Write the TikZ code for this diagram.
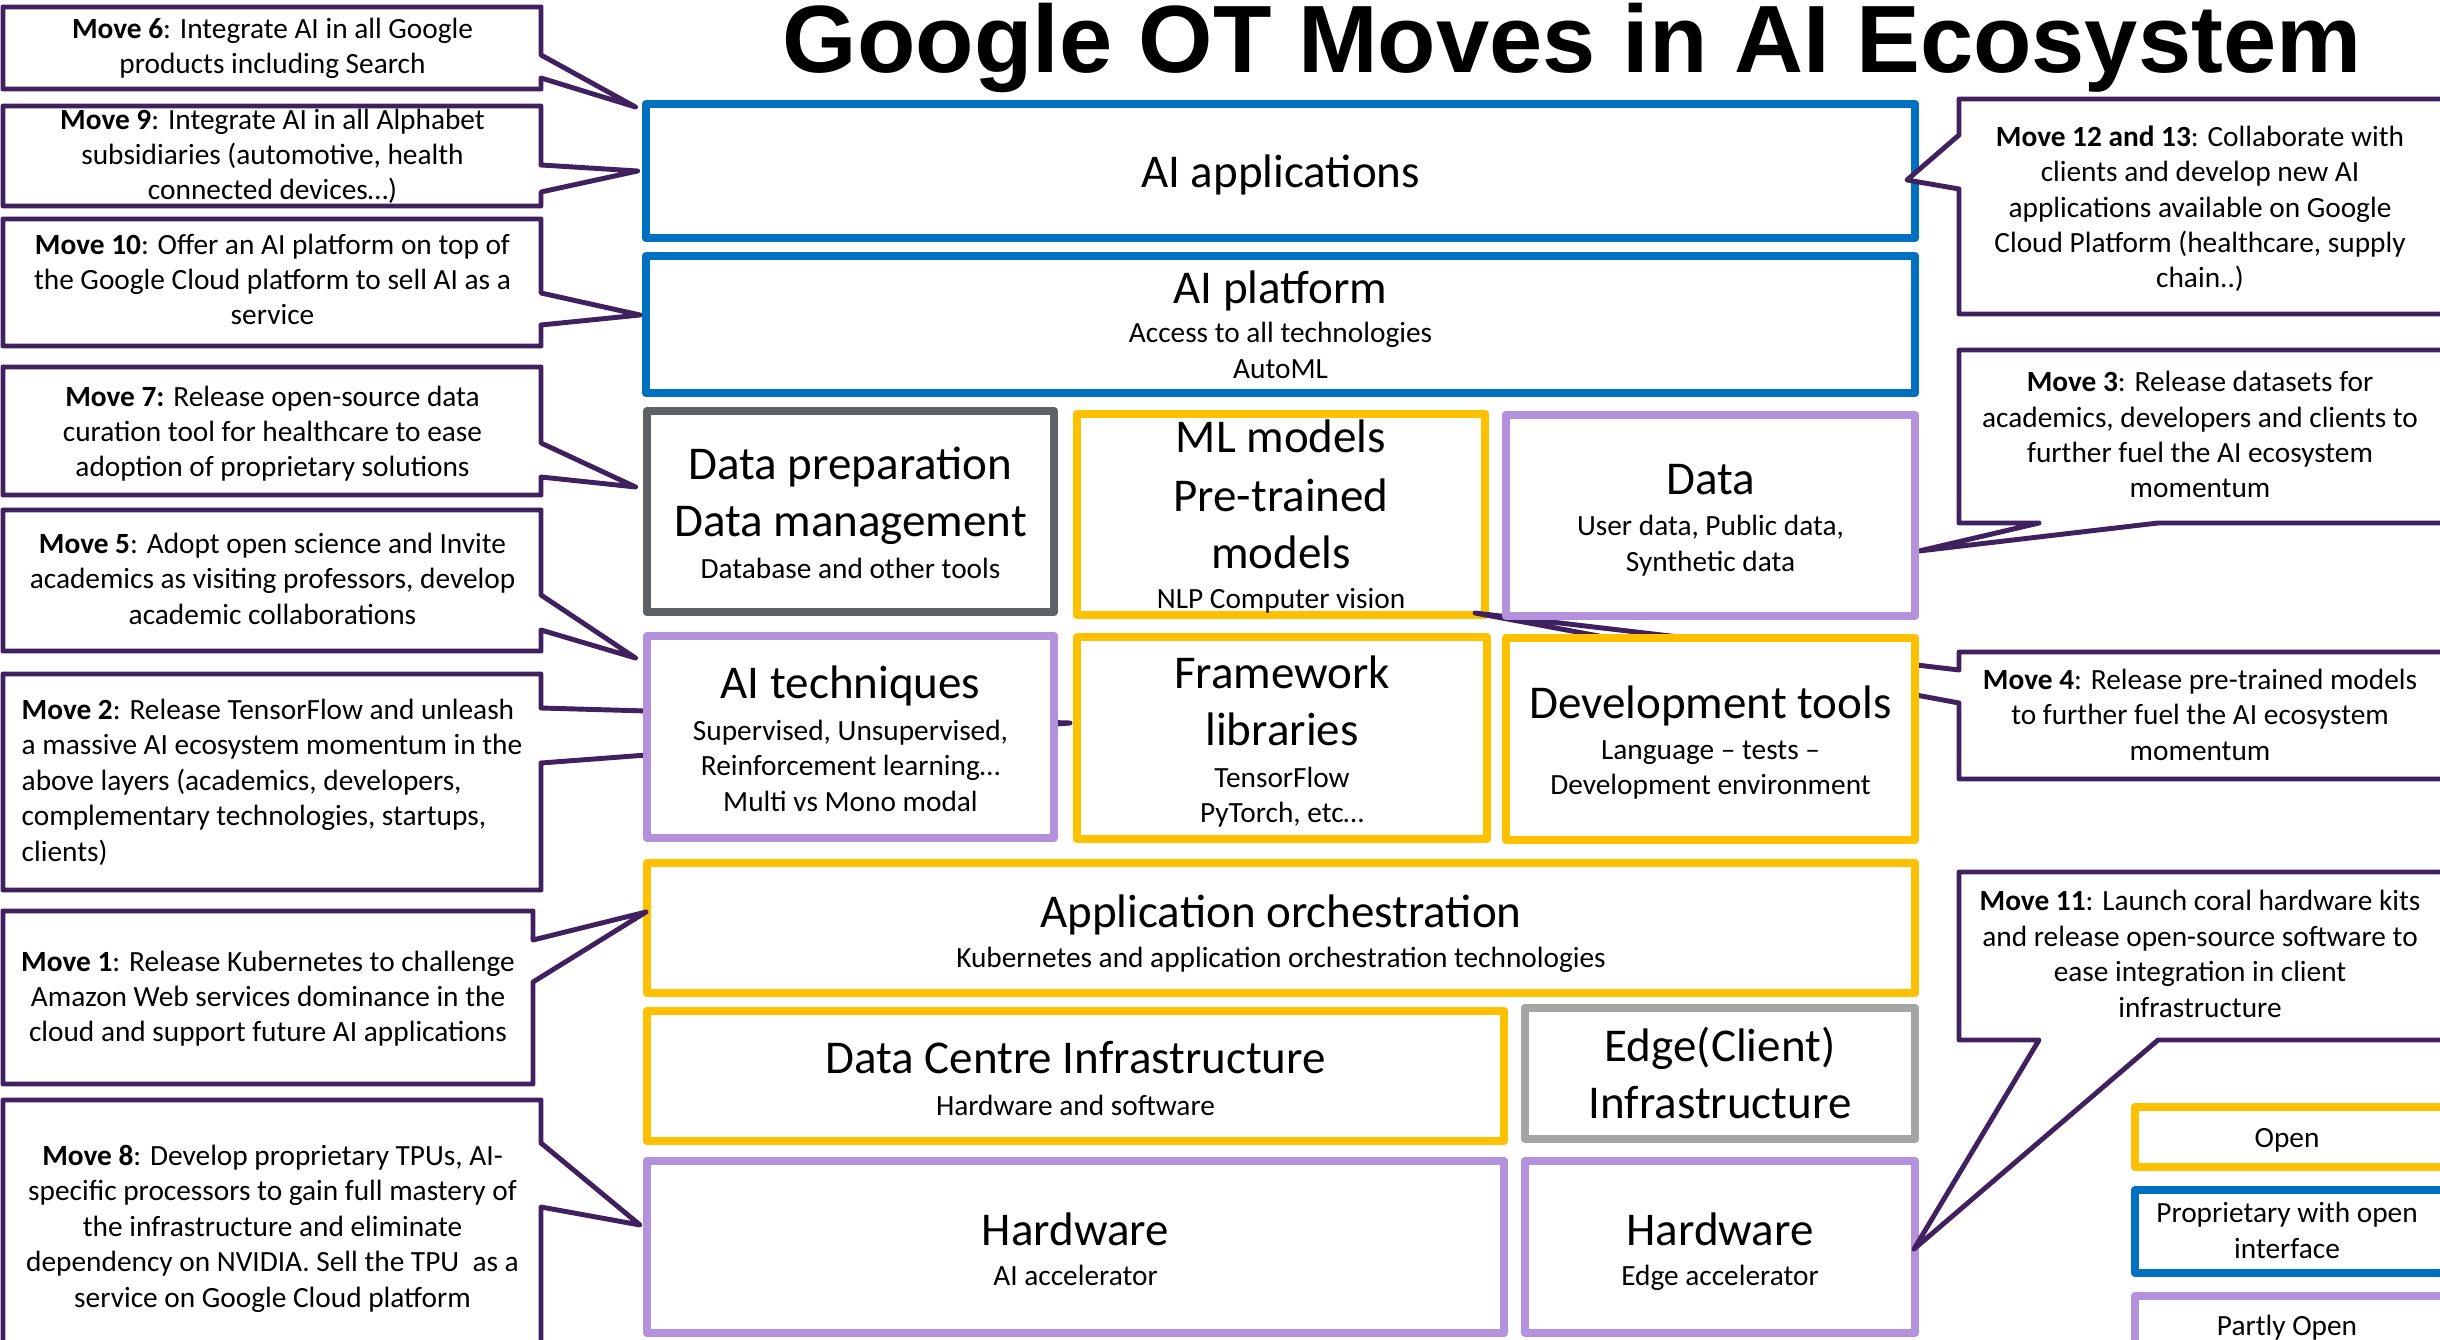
\documentclass[tikz,border=0pt]{standalone}
\usepackage{fontspec}
\setmainfont{Carlito}
\newfontfamily\titlefont{Liberation Sans}
\definecolor{cblue}{HTML}{0070C0}
\definecolor{cyellow}{HTML}{FFC000}
\definecolor{clilac}{HTML}{B491DC}
\definecolor{cdgray}{HTML}{5E6266}
\definecolor{clgray}{HTML}{A5A5A5}
\definecolor{cpurple}{HTML}{40205F}
\begin{document}
\begin{tikzpicture}[x=0.01cm,y=-0.01cm,
  layer/.style={draw, line width=2.28pt, fill=white, inner sep=0pt, line join=round},
  callout/.style={draw=cpurple, line width=1.4pt, fill=white, line join=round},
  big/.style={anchor=base, inner sep=0pt, font=\fontsize{13.37pt}{16pt}\selectfont},
  small/.style={anchor=base, inner sep=0pt, font=\fontsize{8.34pt}{10.05pt}\selectfont},
  ctext/.style={anchor=base, inner sep=0pt, align=center, font=\fontsize{8.34pt}{10.05pt}\selectfont},
  ltext/.style={anchor=base west, inner sep=0pt, align=left, font=\fontsize{8.34pt}{10.05pt}\selectfont},
  title/.style={anchor=base, inner sep=0pt, font=\titlefont\bfseries\fontsize{27.2pt}{30pt}\selectfont},
]
\useasboundingbox (0,0) rectangle (2440,1340);
\clip (0,0) rectangle (2440,1340);
\fill[white] (0,0) rectangle (2440,1340);

% ---------- layer boxes (below callouts) ----------
\node[layer, draw=cblue, minimum width=12.69cm, minimum height=1.34cm] (aiapp) at (1280.5,171) {};
\node[layer, draw=cblue, minimum width=12.69cm, minimum height=1.37cm] (aiplat) at (1280.5,324.5) {};
\node[layer, draw=cdgray, minimum width=4.07cm, minimum height=2.01cm] (dataprep) at (850.5,511.5) {};
\node[layer, draw=cyellow, minimum width=4.08cm, minimum height=2.01cm] (ml) at (1281,514.5) {};
\node[layer, draw=cyellow, minimum width=4.10cm, minimum height=2.02cm] (frame) at (1282,738) {};
\node[layer, draw=cyellow, minimum width=12.68cm, minimum height=1.30cm] (apporch) at (1281,928) {};
\node[layer, draw=cyellow, minimum width=8.57cm, minimum height=1.30cm] (dc) at (1075.5,1076) {};
\node[layer, draw=clgray, minimum width=3.90cm, minimum height=1.31cm] (edge) at (1720,1073.5) {};
\node[layer, draw=clilac, minimum width=8.57cm, minimum height=1.72cm] (hw) at (1075.5,1247) {};
\node[layer, draw=clilac, minimum width=3.90cm, minimum height=1.72cm] (hwedge) at (1720,1247) {};

% legend boxes
\node[layer, draw=cyellow, minimum width=3.11cm, minimum height=0.60cm] (lopen) at (2290.5,1137) {};
\node[layer, draw=cblue, minimum width=3.11cm, minimum height=0.83cm] (lprop) at (2290.5,1231.5) {};
\node[layer, draw=clilac, minimum width=3.11cm, minimum height=0.84cm] (lpart) at (2290.5,1338) {};

% ---------- callout tips ----------
\coordinate (tip6) at (635.5,107);
\coordinate (tip9) at (637.6,171);
\coordinate (tip10) at (640,315);
\coordinate (tip7) at (635.5,487);
\coordinate (tip5) at (635.5,658);
\coordinate (tip2) at (1070,723);
\coordinate (tip1) at (646,912);
\coordinate (tip8) at (640,1225);
\coordinate (tip12) at (1907,180);
\coordinate (tip3) at (1919,551);
\coordinate (tip4) at (1475,613);
\coordinate (tip11) at (1914,1249);

% ---------- callouts ----------
\draw[callout] (3,7) -- (541,7) -- (541,55) -- (tip6) -- (541,78) -- (541,89) -- (3,89) -- cycle;
\draw[callout] (3,106) -- (541,106) -- (541,165) -- (tip9) -- (541,192) -- (541,206) -- (3,206) -- cycle;
\draw[callout] (3,219) -- (541,219) -- (541,293) -- (tip10) -- (541,325) -- (541,346) -- (3,346) -- cycle;
\draw[callout] (3,367) -- (541,367) -- (541,443) -- (tip7) -- (541,477) -- (541,495) -- (3,495) -- cycle;
\draw[callout] (3,510) -- (541,510) -- (541,595) -- (tip5) -- (541,630) -- (541,651) -- (3,651) -- cycle;
\draw[callout] (3,674) -- (541,674) -- (541,708) -- (tip2) -- (541,763) -- (541,890) -- (3,890) -- cycle;
\draw[callout] (3,911) -- (533,911) -- (533,940) -- (tip1) -- (533,982) -- (533,1084) -- (3,1084) -- cycle;
\draw[callout] (3,1100) -- (541,1100) -- (541,1143) -- (tip8) -- (541,1207) -- (541,1400) -- (3,1400) -- cycle;

\draw[callout] (1959,99) -- (2446,99) -- (2446,314) -- (1959,314) -- (1959,189) -- (tip12) -- (1959,135) -- cycle;
\draw[callout] (1959,350) -- (2446,350) -- (2446,523) -- (2158,523) -- (tip3) -- (2039,523) -- (1959,523) -- cycle;
\draw[callout] (1959,652) -- (2446,652) -- (2446,779) -- (1959,779) -- (1959,703) -- (tip4) -- (1959,670) -- cycle;
\draw[callout] (1959,872) -- (2446,872) -- (2446,1040) -- (2158,1040) -- (tip11) -- (2039,1040) -- (1959,1040) -- cycle;

% ---------- layer boxes (above callouts) ----------
\node[layer, draw=clilac, minimum width=4.09cm, minimum height=2.01cm] (data) at (1710.5,515.5) {};
\node[layer, draw=clilac, minimum width=4.07cm, minimum height=2.02cm] (aitech) at (850.5,737) {};
\node[layer, draw=cyellow, minimum width=4.09cm, minimum height=2.02cm] (devtools) at (1710.5,739) {};

% ---------- title ----------
\node[title] (ttl) at (1572,73) {Google OT Moves in AI Ecosystem};

% ---------- callout texts (anchored at the baseline of their last line) ----------
\node[ctext] (c6) at (272.5,73.5) {\textbf{Move 6}: Integrate AI in all Google\\products including Search};
\node[ctext] (c9) at (272.5,200) {\textbf{Move 9}: Integrate AI in all Alphabet\\subsidiaries (automotive, health\\connected devices…)};
\node[ctext] (c10) at (272.5,325) {\textbf{Move 10}: Offer an AI platform on top of\\the Google Cloud platform to sell AI as a\\service};
\node[ctext] (c7) at (272.5,477) {\textbf{Move 7:} Release open-source data\\curation tool for healthcare to ease\\adoption of proprietary solutions};
\node[ctext] (c5) at (272.5,624) {\textbf{Move 5}: Adopt open science and Invite\\academics as visiting professors, develop\\academic collaborations};
\node[ltext] (c2) at (21,861) {\textbf{Move 2}: Release TensorFlow and unleash\\a massive AI ecosystem momentum in the\\above layers (academics, developers,\\complementary technologies, startups,\\clients)};
\node[ctext] (c1) at (268,1041.7) {\textbf{Move 1}: Release Kubernetes to challenge\\Amazon Web services dominance in the\\cloud and support future AI applications};
\node[ctext] (c8) at (272.5,1307) {\textbf{Move 8}: Develop proprietary TPUs, AI-\\specific processors to gain full mastery of\\the infrastructure and eliminate\\dependency on NVIDIA. Sell the TPU\ \ as a\\service on Google Cloud platform};

\node[ctext] (c12) at (2200,288) {\textbf{Move 12 and 13}: Collaborate with\\clients and develop new AI\\applications available on Google\\Cloud Platform (healthcare, supply\\chain..)};
\node[ctext] (c3) at (2200,498) {\textbf{Move 3}: Release datasets for\\academics, developers and clients to\\further fuel the AI ecosystem\\momentum};
\node[ctext] (c4) at (2200,760) {\textbf{Move 4}: Release pre-trained models\\to further fuel the AI ecosystem\\momentum};
\node[ctext] (c11) at (2200,1017) {\textbf{Move 11}: Launch coral hardware kits\\and release open-source software to\\ease integration in client\\infrastructure};

% legend texts
\node[small] (lt1) at (2287,1147) {Open};
\node[ctext] (lt2) at (2287,1258) {Proprietary with open\\interface};
\node[small] (lt3) at (2287,1335) {Partly Open};

% ---------- layer texts ----------
\node[big] (t-aiapp) at (1280.5,188) {AI applications};
\node[big] (t-aiplat1) at (1280.5,304) {AI platform};
\node[small] (t-aiplat2) at (1280.5,343) {Access to all technologies};
\node[small] (t-aiplat3) at (1280.5,379) {AutoML};
\node[big] (t-dp1) at (850.5,480) {Data preparation};
\node[big] (t-dp2) at (850.5,537) {Data management};
\node[small] (t-dp3) at (850.5,578) {Database and other tools};
\node[big] (t-ml1) at (1281,453) {ML models};
\node[big] (t-ml2) at (1281,512) {Pre-trained};
\node[big] (t-ml3) at (1281,568) {models};
\node[small] (t-ml4) at (1281,609) {NLP Computer vision};
\node[big] (t-da1) at (1710.5,495) {Data};
\node[small] (t-da2) at (1710.5,536) {User data, Public data,};
\node[small] (t-da3) at (1710.5,572) {Synthetic data};
\node[big] (t-at1) at (850.5,698) {AI techniques};
\node[small] (t-at2) at (850.5,740) {Supervised, Unsupervised,};
\node[small] (t-at3) at (850.5,775) {Reinforcement learning…};
\node[small] (t-at4) at (850.5,811) {Multi vs Mono modal};
\node[big] (t-fr1) at (1282,688) {Framework};
\node[big] (t-fr2) at (1282,745) {libraries};
\node[small] (t-fr3) at (1282,787) {TensorFlow};
\node[small] (t-fr4) at (1282,822) {PyTorch, etc…};
\node[big] (t-dt1) at (1710.5,718) {Development tools};
\node[small] (t-dt2) at (1710.5,759) {Language – tests –};
\node[small] (t-dt3) at (1710.5,794) {Development environment};
\node[big] (t-ao1) at (1281,927) {Application orchestration};
\node[small] (t-ao2) at (1281,967) {Kubernetes and application orchestration technologies};
\node[big] (t-dc1) at (1075.5,1073) {Data Centre Infrastructure};
\node[small] (t-dc2) at (1075.5,1115) {Hardware and software};
\node[big] (t-ed1) at (1720,1061) {Edge(Client)};
\node[big] (t-ed2) at (1720,1118) {Infrastructure};
\node[big] (t-hw1) at (1075.5,1245) {Hardware};
\node[small] (t-hw2) at (1075.5,1285) {AI accelerator};
\node[big] (t-he1) at (1720,1245) {Hardware};
\node[small] (t-he2) at (1720,1285) {Edge accelerator};
\end{tikzpicture}
\end{document}
